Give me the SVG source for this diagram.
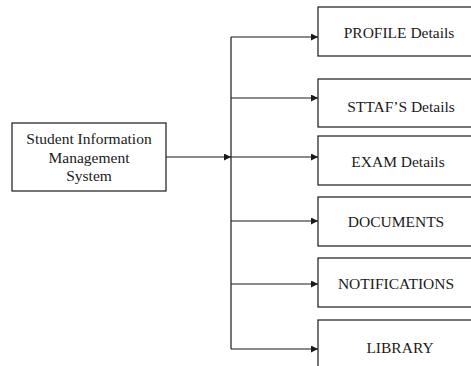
<svg xmlns="http://www.w3.org/2000/svg" width="471" height="366" viewBox="0 0 471 366">
  <style>
    .box { fill: #ffffff; stroke: #1a1a1a; stroke-width: 1.2; }
    .label { font-family: "Liberation Serif", "Times New Roman", serif; font-size: 15.5px; fill: #1a1a1a; text-anchor: middle; }
    .wire { fill: none; stroke: #1a1a1a; stroke-width: 1.2; }
  </style>
  <defs>
    <marker id="arrow" viewBox="0 0 10 10" refX="10" refY="5" markerWidth="9" markerHeight="7" markerUnits="userSpaceOnUse" orient="auto">
      <path d="M0,0 L10,5 L0,10 z" fill="#1a1a1a"/>
    </marker>
  </defs>
  <rect width="471" height="366" fill="#ffffff"/>

  <!-- central system node -->
  <g id="sims">
    <rect class="box" x="12" y="123" width="154" height="68"/>
    <text class="label" x="89" y="144">Student Information</text>
    <text class="label" x="89" y="163">Management</text>
    <text class="label" x="89" y="181">System</text>
  </g>

  <!-- module nodes -->
  <g id="profile">
    <rect class="box" x="318" y="7" width="160" height="49"/>
    <text class="label" x="399" y="38">PROFILE Details</text>
  </g>
  <g id="staff">
    <rect class="box" x="318" y="79" width="160" height="48"/>
    <text class="label" x="401" y="112">STTAF’S Details</text>
  </g>
  <g id="exam">
    <rect class="box" x="318" y="136" width="160" height="49"/>
    <text class="label" x="398" y="167">EXAM Details</text>
  </g>
  <g id="documents">
    <rect class="box" x="318" y="197" width="160" height="49"/>
    <text class="label" x="396" y="227">DOCUMENTS</text>
  </g>
  <g id="notifications">
    <rect class="box" x="318" y="258" width="160" height="49"/>
    <text class="label" x="396" y="289">NOTIFICATIONS</text>
  </g>
  <g id="library">
    <rect class="box" x="318" y="320" width="160" height="49"/>
    <text class="label" x="400" y="353">LIBRARY</text>
  </g>

  <!-- connectors -->
  <g id="connectors">
    <line class="wire" x1="166" y1="157" x2="231" y2="157" marker-end="url(#arrow)"/>
    <line class="wire" x1="231" y1="37" x2="231" y2="349"/>
    <line class="wire" x1="231" y1="37" x2="318" y2="37" marker-end="url(#arrow)"/>
    <line class="wire" x1="231" y1="98" x2="318" y2="98" marker-end="url(#arrow)"/>
    <line class="wire" x1="231" y1="157" x2="318" y2="157" marker-end="url(#arrow)"/>
    <line class="wire" x1="231" y1="221" x2="318" y2="221" marker-end="url(#arrow)"/>
    <line class="wire" x1="231" y1="284" x2="318" y2="284" marker-end="url(#arrow)"/>
    <line class="wire" x1="231" y1="349" x2="318" y2="349" marker-end="url(#arrow)"/>
  </g>
</svg>
